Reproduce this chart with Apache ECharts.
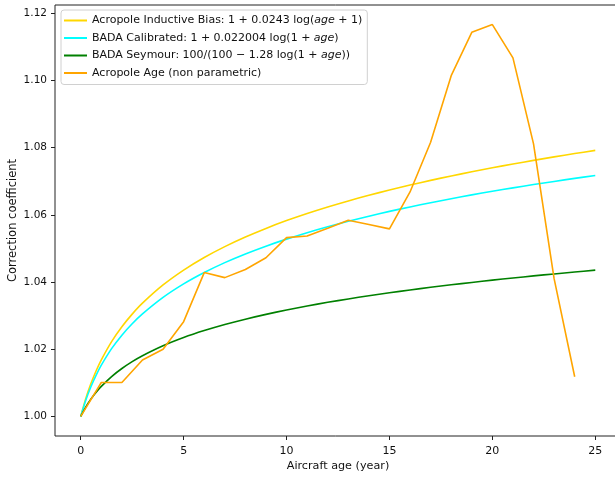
<!DOCTYPE html>
<html lang="en">
<head>
    <meta charset="UTF-8">
    <title>Correction coefficient vs aircraft age</title>
    <script src="https://cdn.jsdelivr.net/npm/echarts@6/dist/echarts.min.js"></script>
    <style>
        html, body { margin: 0; padding: 0; background: #fff; }
    </style>
</head>
<body>
<div id="main" style="width: 615px;height:477px;"></div>
<script type="text/javascript">
    // ages where the three fitted curves are sampled
    var curveAges = [0, 0.25, 0.5, 0.75, 1, 1.5, 2, 2.5, 3, 4, 5, 6, 7, 8, 9, 10, 11, 12, 13,
        14, 15, 16, 17, 18, 19, 20, 21, 22, 23, 24, 25];
    var inductiveBias = [1.00000, 1.00542, 1.00985, 1.01360, 1.01684, 1.02227, 1.02670, 1.03044,
        1.03369, 1.03911, 1.04354, 1.04729, 1.05053, 1.05339, 1.05595, 1.05827, 1.06038, 1.06233,
        1.06413, 1.06581, 1.06737, 1.06885, 1.07024, 1.07155, 1.07280, 1.07398, 1.07511, 1.07619,
        1.07723, 1.07822, 1.07917];
    var badaCalibrated = [1.00000, 1.00491, 1.00892, 1.01231, 1.01525, 1.02016, 1.02417, 1.02757,
        1.03050, 1.03541, 1.03943, 1.04282, 1.04576, 1.04835, 1.05067, 1.05276, 1.05468, 1.05644,
        1.05807, 1.05959, 1.06101, 1.06234, 1.06360, 1.06479, 1.06592, 1.06699, 1.06802, 1.06899,
        1.06993, 1.07083, 1.07169];
    var badaSeymour = [1.00000, 1.00286, 1.00522, 1.00722, 1.00895, 1.01187, 1.01426, 1.01630,
        1.01807, 1.02103, 1.02347, 1.02554, 1.02735, 1.02894, 1.03037, 1.03167, 1.03285, 1.03395,
        1.03496, 1.03591, 1.03680, 1.03763, 1.03842, 1.03917, 1.03987, 1.04055, 1.04120, 1.04181,
        1.04240, 1.04297, 1.04352];

    // non parametric estimate, one value per year
    var ageYears = [0, 1, 2, 3, 4, 5, 6, 7, 8, 9, 10, 11, 12, 13, 14, 15, 16, 17, 18, 19, 20, 21, 22, 23, 24];
    var acropoleAge = [1.0000, 1.0101, 1.0101, 1.0168, 1.0200, 1.0282, 1.0428, 1.0413, 1.0437,
        1.0472, 1.0532, 1.0537, 1.0560, 1.0584, 1.0571, 1.0558, 1.0668, 1.0816, 1.1014, 1.1143,
        1.1166, 1.1067, 1.0811, 1.0410, 1.0118];

    var xTicks = [0, 5, 10, 15, 20, 25];
    var yTicks = [1.00, 1.02, 1.04, 1.06, 1.08, 1.10, 1.12];

    var seriesNames = [
        'Acropole Inductive Bias',
        'BADA Calibrated',
        'BADA Seymour',
        'Acropole Age (non parametric)'
    ];
    var legendLabels = {
        'Acropole Inductive Bias': 'Acropole Inductive Bias: 1 + 0.0243 log({i|age} + 1)',
        'BADA Calibrated': 'BADA Calibrated: 1 + 0.022004 log(1 + {i|age})',
        'BADA Seymour': 'BADA Seymour: 100/(100 \u2212 1.28 log(1 + {i|age}))',
        'Acropole Age (non parametric)': 'Acropole Age (non parametric)'
    };

    function pairs(xs, ys) {
        return xs.map(function (x, i) { return [x, ys[i]]; });
    }

    var font = 'DejaVu Sans';
    var myChart = echarts.init(document.getElementById('main'));

    var option = {
        animation: false,
        textStyle: { fontFamily: font },
        grid: {
            left: 55, right: -6, top: 5, bottom: 41,
            containLabel: false, outerBoundsMode: 'none',
            show: true, borderColor: '#222', borderWidth: 1
        },
        legend: {
            data: seriesNames,
            orient: 'vertical',
            left: 61, top: 10,
            icon: 'rect',
            itemWidth: 23, itemHeight: 2,
            itemGap: 4.5,
            itemTextGap: 9,
            padding: [4, 5, 5, 3],
            backgroundColor: 'rgba(255,255,255,0.8)',
            borderColor: '#d0d0d0', borderWidth: 1, borderRadius: 3,
            formatter: function (name) { return legendLabels[name]; },
            textStyle: {
                fontFamily: font, fontSize: 11, color: '#111', lineHeight: 13,
                rich: { i: { fontFamily: font, fontSize: 11, fontStyle: 'italic', color: '#111' } }
            }
        },
        xAxis: {
            type: 'value',
            min: -1.25, max: 26.25,
            name: 'Aircraft age (year)',
            nameLocation: 'middle', nameGap: 25, nameMoveOverlap: false,
            nameTextStyle: { fontFamily: font, fontSize: 11.2, color: '#111' },
            axisLine: { show: false, onZero: false },
            axisTick: { show: true, inside: false, length: 4, customValues: xTicks,
                lineStyle: { color: '#222', width: 1 } },
            axisLabel: { customValues: xTicks, margin: 10, fontFamily: font, fontSize: 11, color: '#111' },
            splitLine: { show: false }
        },
        yAxis: {
            type: 'value',
            min: 0.99417, max: 1.12243,
            name: 'Correction coefficient',
            nameLocation: 'middle', nameGap: 36, nameMoveOverlap: false,
            nameTextStyle: { fontFamily: font, fontSize: 11.5, color: '#111' },
            axisLine: { show: false, onZero: false },
            axisTick: { show: true, inside: false, length: 4, customValues: yTicks,
                lineStyle: { color: '#222', width: 1 } },
            axisLabel: {
                customValues: yTicks, margin: 8, fontFamily: font, fontSize: 10.5, color: '#111',
                formatter: function (v) { return v.toFixed(2); }
            },
            splitLine: { show: false }
        },
        series: [
            {
                name: seriesNames[0], type: 'line', smooth: 0.3, showSymbol: false,
                lineStyle: { color: '#FFD700', width: 1.6 }, itemStyle: { color: '#FFD700' },
                data: pairs(curveAges, inductiveBias)
            },
            {
                name: seriesNames[1], type: 'line', smooth: 0.3, showSymbol: false,
                lineStyle: { color: '#00FFFF', width: 1.6 }, itemStyle: { color: '#00FFFF' },
                data: pairs(curveAges, badaCalibrated)
            },
            {
                name: seriesNames[2], type: 'line', smooth: 0.3, showSymbol: false,
                lineStyle: { color: '#008000', width: 1.6 }, itemStyle: { color: '#008000' },
                data: pairs(curveAges, badaSeymour)
            },
            {
                name: seriesNames[3], type: 'line', showSymbol: false,
                lineStyle: { color: '#FFA500', width: 1.6 }, itemStyle: { color: '#FFA500' },
                data: pairs(ageYears, acropoleAge)
            }
        ]
    };

    myChart.setOption(option);
</script>
</body>
</html>
